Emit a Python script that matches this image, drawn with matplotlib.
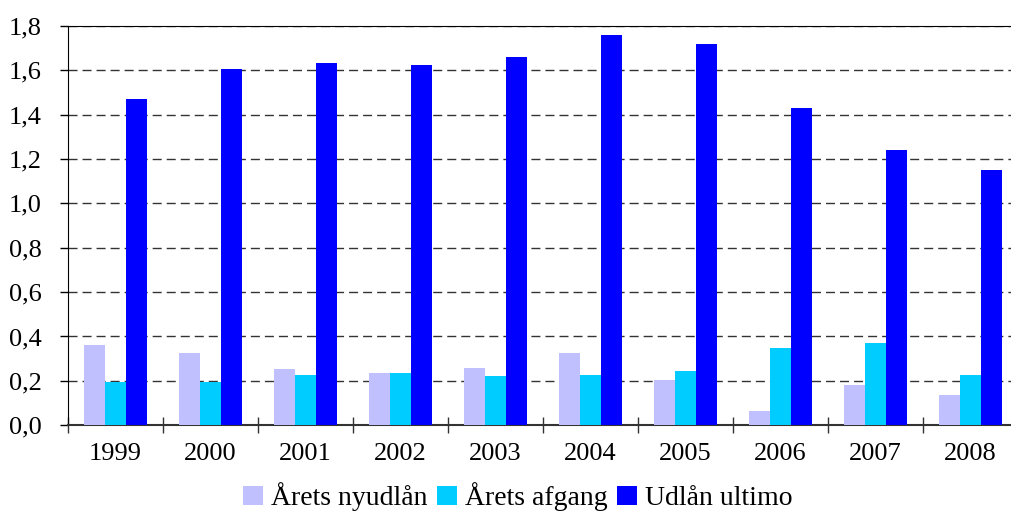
import matplotlib
matplotlib.use("Agg")
import matplotlib.pyplot as plt
import numpy as np
from matplotlib.ticker import FuncFormatter, FixedLocator

years = ["1999", "2000", "2001", "2002", "2003", "2004", "2005", "2006", "2007", "2008"]
nyudlaan = [0.36, 0.326, 0.254, 0.236, 0.258, 0.326, 0.204, 0.064, 0.181, 0.136]
afgang = [0.195, 0.195, 0.227, 0.236, 0.222, 0.227, 0.245, 0.349, 0.371, 0.227]
ultimo = [1.473, 1.604, 1.631, 1.626, 1.662, 1.761, 1.717, 1.432, 1.243, 1.152]
labels = ["Årets nyudlån", "Årets afgang", "Udlån ultimo"]
colors = ["#C0C0FF", "#00CCFF", "#0000FF"]

plt.rcParams['font.family'] = ['Liberation Serif', 'DejaVu Serif']
fs = 19

W, H = 1012, 511
fig = plt.figure(figsize=(W / 100, H / 100), dpi=100)
ax = fig.add_axes([68 / W, (H - 425.2) / H, (1018 - 68) / W, (425.2 - 26) / H])

x = np.arange(len(years)) + 0.5
w = 0.224
for i, (vals, lab, col) in enumerate(zip([nyudlaan, afgang, ultimo], labels, colors)):
    ax.bar(x + (i - 1) * w, vals, width=w, color=col, label=lab, zorder=3)

ax.set_xlim(0, len(years))
ax.set_ylim(0, 1.8)
ax.set_yticks(np.arange(0, 1.81, 0.2))
ax.yaxis.set_major_formatter(FuncFormatter(lambda v, p: f"{v:.1f}".replace('.', ',')))
ax.yaxis.grid(True, linestyle=(0, (6.5, 3.6)), color='#333333', linewidth=1.0)
ax.set_axisbelow(True)

ax.xaxis.set_major_locator(FixedLocator(np.arange(0, len(years) + 1)))
ax.xaxis.set_minor_locator(FixedLocator(x))
ax.set_xticklabels([], minor=False)
ax.set_xticklabels(years, minor=True)
ax.tick_params(axis='x', which='major', direction='inout', length=11, width=1, color='#333333')
ax.tick_params(axis='x', which='minor', length=0, pad=13, labelsize=fs)
ax.tick_params(axis='y', direction='out', length=5.8, width=1, pad=13, labelsize=fs)

ax.spines['right'].set_visible(False)
ax.spines['top'].set_color('black')
ax.spines['left'].set_color('black')
ax.spines['bottom'].set_color('#333333')
ax.spines['bottom'].set_linewidth(1.5)

fig.legend(loc='center', bbox_to_anchor=(518 / W, 1 - 497 / H), ncol=3, frameon=False,
           fontsize=20, handlelength=0.7, handleheight=0.7, handletextpad=0.3,
           columnspacing=0.35, borderpad=0)

fig.savefig("out.png", dpi=100)
